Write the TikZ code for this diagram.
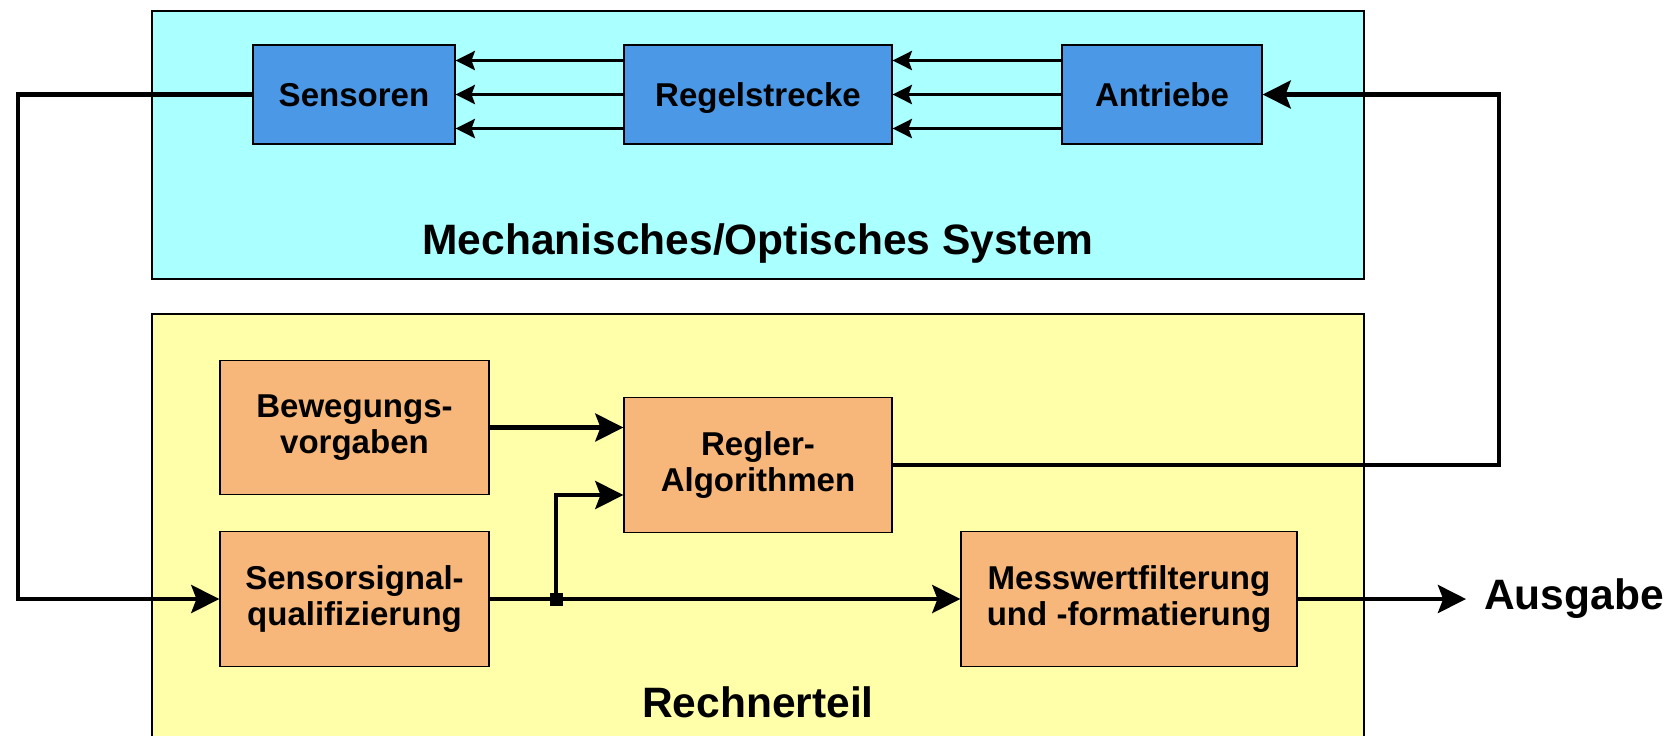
\documentclass[tikz,border=0pt]{standalone}
\usepackage{fontspec}
\setmainfont{Liberation Sans}
\usepackage{tikz}
\usetikzlibrary{arrows.meta,positioning,calc}
\usepackage{xcolor}
\definecolor{mechbg}{RGB}{170,255,255}
\definecolor{rechbg}{RGB}{255,255,170}
\definecolor{mechbox}{RGB}{74,152,230}
\definecolor{rechbox}{RGB}{247,183,122}

\begin{document}
\begin{tikzpicture}[x=0.02cm,y=-0.02cm,
  block/.style={draw,line width=0.8pt,align=center,font=\bfseries\fontsize{18.8}{20.9}\selectfont,inner sep=0pt},
  mblock/.style={block,fill=mechbox,minimum height=1.98cm,text depth=0pt},
  rblock/.style={block,fill=rechbox,minimum height=2.69cm},
  group/.style={font=\bfseries\fontsize{24.2}{28}\selectfont},
  thin/.style={line width=1.5pt,-{Stealth[length=11pt,width=11pt,inset=2pt]}},
  sig/.style={line width=2.3pt,-{Stealth[length=16pt,width=16pt,inset=3pt]}},
  junc/.style={fill,inner sep=0pt,minimum size=0.26cm}]
  \useasboundingbox (0,0) rectangle (1672,735);
  % containers
  \draw[line width=0.8pt,fill=mechbg] (152,11) rectangle (1364,279);
  \draw[line width=0.8pt,fill=rechbg] (152,314) rectangle (1364,760);
  \node[group] (mlabel) at (758,243) {Mechanisches/Optisches System};
  \node[group] (rlabel) at (758,702) {Rechnerteil};
  % mechanical part
  \node[mblock,minimum width=4.04cm] (sens) at (354,94.5) {Sensoren};
  \node[mblock,minimum width=5.36cm] (strecke) at (758,94.5) {Regelstrecke};
  \node[mblock,minimum width=4.0cm] (antr) at (1162,94.5) {Antriebe};
  \foreach \dy in {-34,0,34} {
    \draw[thin] ($(strecke.west)+(0,\dy)$) -- ($(sens.east)+(0,\dy)$);
    \draw[thin] ($(antr.west)+(0,\dy)$) -- ($(strecke.east)+(0,\dy)$);
  }
  % computer part
  \node[rblock,minimum width=5.38cm] (beweg) at (354.5,427.5) {Bewegungs-\\vorgaben};
  \node[rblock,minimum width=5.36cm] (regler) at (758,465) {Regler-\\Algorithmen};
  \node[rblock,minimum width=5.38cm] (quali) at (354.5,599) {Sensorsignal-\\qualifizierung};
  \node[rblock,minimum width=6.72cm] (mess) at (1129,599) {Messwertfilterung\\und -formatierung};
  \node[junc] (j) at (556,599) {};
  \coordinate (lft) at (18,0);
  \coordinate (rgt) at (1499,0);
  \coordinate (out) at (1466,599);
  \node[group,anchor=west] (ausg) at (1478,599) {Ausgabe};
  % connectors
  \draw[sig] (sens.west) -- (sens.west -| lft) -- (quali.west -| lft) -- (quali.west);
  \draw[sig] (regler.east) -- (regler.east -| rgt) -- (antr.east -| rgt) -- (antr.east);
  \draw[sig] (beweg.east) -- (beweg.east -| regler.west);
  \draw[sig] (quali.east) -- (mess.west);
  \draw[sig] (j.center) -- (556,495) -- (regler.west |- 0,495);
  \draw[sig] (mess.east) -- (out);
\end{tikzpicture}
\end{document}
